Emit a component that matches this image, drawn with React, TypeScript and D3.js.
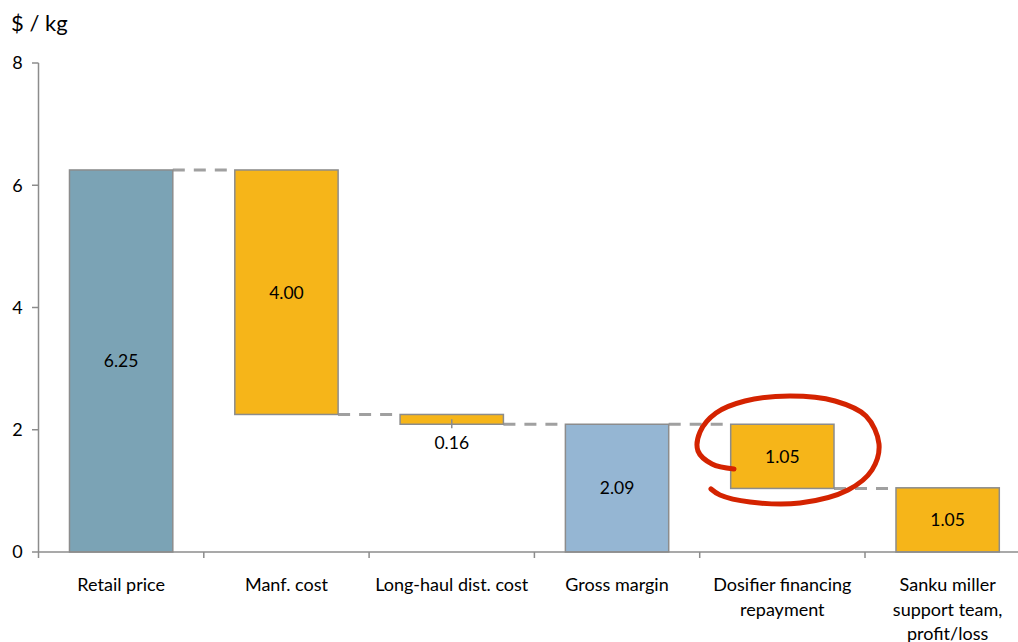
import React from "react";
import * as d3 from "d3";

const categories: string[][] = [
  ["Retail price"],
  ["Manf. cost"],
  ["Long-haul dist. cost"],
  ["Gross margin"],
  ["Dosifier financing", "repayment"],
  ["Sanku miller", "support team,", "profit/loss"],
];
const values: number[] = [6.25, 4.0, 0.16, 2.09, 1.05, 1.05];
const kinds: string[] = ["total", "decrease", "decrease", "total", "decrease", "total"];
const valueLabels: string[] = ["6.25", "4.00", "0.16", "2.09", "1.05", "1.05"];
const barColors: string[] = ["#7BA3B5", "#F6B519", "#F6B519", "#95B6D3", "#F6B519", "#F6B519"];
const yTicks: number[] = [0, 2, 4, 6, 8];

const W = 1018;
const H = 642;
const FONT = "Lato, 'Open Sans', sans-serif";

export default function App() {
  const y = d3.scaleLinear().domain([0, 8]).range([552, 63]);
  const keys = categories.map((c) => c.join(" "));
  const x = d3
    .scaleBand<string>()
    .domain(keys)
    .range([38.5, 1030.3])
    .paddingInner(0.375)
    .paddingOuter(0.1875);
  const step = x.step();
  const x0 = 38.5;

  // compute waterfall segments
  let running = 0;
  const segs = values.map((v, i) => {
    let lo: number, hi: number;
    if (kinds[i] === "total") {
      lo = 0;
      hi = v;
      running = v;
    } else {
      hi = running;
      lo = running - v;
      running = lo;
    }
    return { lo, hi, level: running };
  });

  const bw = x.bandwidth();

  // annotation ring (hand-drawn)
  const ringPts: [number, number][] = [
    [734, 469],
    [712, 464],
    [698, 451],
    [700, 432],
    [716, 413],
    [745, 401],
    [790, 396],
    [835, 401],
    [866, 416],
    [879, 444],
    [872, 470],
    [848, 490],
    [800, 503],
    [750, 502],
    [720, 495],
    [711, 489],
  ];
  const ringPath = d3.line().curve(d3.curveCatmullRom.alpha(0.5))(ringPts) || "";

  return (
    <svg width={W} height={H} style={{ position: "absolute", left: 0, top: 0, background: "#fff" }}>
      {/* y label */}
      <text x={11} y={31} fontFamily={FONT} fontSize={22} fill="#000">
        $ / kg
      </text>

      {/* y axis */}
      <line x1={38.5} x2={38.5} y1={y(8)} y2={y(0)} stroke="#8C8C8C" strokeWidth={1.5} />
      {yTicks.map((t) => (
        <g key={t}>
          <line x1={32} x2={38.5} y1={y(t)} y2={y(t)} stroke="#8C8C8C" strokeWidth={1.5} />
          <text
            x={17.5}
            y={y(t)}
            dy="0.36em"
            textAnchor="middle"
            fontFamily={FONT}
            fontSize={18}
            fill="#000"
          >
            {t}
          </text>
        </g>
      ))}

      {/* connectors */}
      {segs.slice(0, -1).map((s, i) => (
        <line
          key={"c" + i}
          x1={(x(keys[i]) || 0) + bw}
          x2={x(keys[i + 1]) || 0}
          y1={y(s.level)}
          y2={y(s.level)}
          stroke="#A0A0A0"
          strokeWidth={3}
          strokeDasharray="12 9"
        />
      ))}

      {/* bars */}
      {segs.map((s, i) => {
        const bx = x(keys[i]) || 0;
        const top = y(s.hi);
        const bot = y(s.lo);
        const h = bot - top;
        const cx = bx + bw / 2;
        const small = h < 20;
        return (
          <g key={"b" + i}>
            <rect x={bx} y={top} width={bw} height={h} fill={barColors[i]} stroke="#8C8C8C" strokeWidth={1.5} />
            {small && <line x1={cx} x2={cx} y1={top + h / 2} y2={bot + 4} stroke="#8C8C8C" strokeWidth={1.5} />}
            <text
              x={cx}
              y={small ? bot + 18 : top + h / 2}
              dy="0.36em"
              textAnchor="middle"
              fontFamily={FONT}
              fontSize={17.5}
              fill="#000"
            >
              {valueLabels[i]}
            </text>
          </g>
        );
      })}

      {/* x axis */}
      <line x1={x0} x2={x0 + step * 6} y1={y(0)} y2={y(0)} stroke="#8C8C8C" strokeWidth={1.5} />
      {d3.range(7).map((i) => (
        <line
          key={"xt" + i}
          x1={x0 + i * step}
          x2={x0 + i * step}
          y1={y(0)}
          y2={y(0) + 6}
          stroke="#8C8C8C"
          strokeWidth={1.5}
        />
      ))}
      {categories.map((lines, i) => (
        <text
          key={"xl" + i}
          x={(x(keys[i]) || 0) + bw / 2}
          y={591}
          textAnchor="middle"
          fontFamily={FONT}
          fontSize={18}
          fill="#000"
        >
          {lines.map((l, j) => (
            <tspan key={j} x={(x(keys[i]) || 0) + bw / 2} dy={j === 0 ? 0 : 24.5}>
              {l}
            </tspan>
          ))}
        </text>
      ))}

      {/* annotation ring */}
      <path d={ringPath} fill="none" stroke="#D42300" strokeWidth={5} strokeLinecap="round" strokeLinejoin="round" />
    </svg>
  );
}
